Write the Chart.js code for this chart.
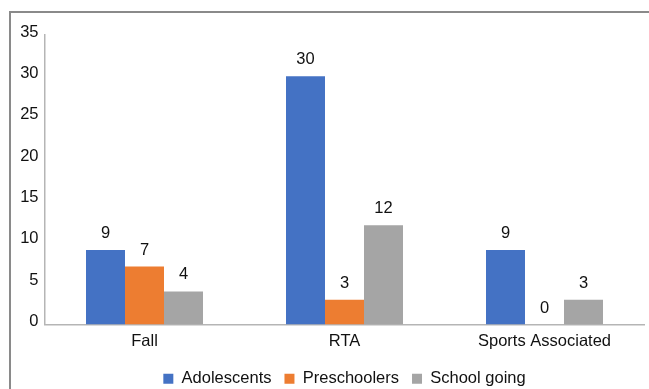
<!DOCTYPE html>
<html>
<head>
<meta charset="utf-8">
<script src="https://cdn.jsdelivr.net/npm/chart.js@4/dist/chart.umd.min.js"></script>
<style>
  html, body { margin: 0; padding: 0; background: #fff; overflow: hidden; }
  #wrap { width: 649px; height: 389px; position: relative; overflow: hidden; }
</style>
</head>
<body>
<div id="wrap"><canvas id="c" width="649" height="397"></canvas></div>
<script>
// Injury causes by age group
const categories = ['Fall', 'RTA', 'Sports Associated'];
const adolescents = [9, 30, 9];
const preschoolers = [7, 3, 0];
const schoolGoing = [4, 12, 3];
const yTicks = [0, 5, 10, 15, 20, 25, 30, 35];

const FONT = 'Liberation Sans, Arial, sans-serif';
const FONT_SIZE = 16.5;

// Frame around the chart, running off the right and bottom edges
const framePlugin = {
  id: 'frame',
  beforeDraw(chart) {
    const ctx = chart.ctx;
    ctx.save();
    ctx.strokeStyle = '#8a8a8a';
    ctx.lineWidth = 2;
    ctx.strokeRect(10, 12, 700, 420);
    ctx.restore();
  }
};

// Center the legend under the plot area rather than the whole canvas
const legendShift = {
  id: 'legendShift',
  afterLayout(chart) {
    const lg = chart.legend;
    const area = chart.chartArea;
    const d = (area.left + area.right) / 2 - (lg.left + lg.right) / 2;
    lg.left += d;
    lg.right += d;
  }
};

// Value labels above each bar
const valueLabels = {
  id: 'valueLabels',
  afterDatasetsDraw(chart) {
    const ctx = chart.ctx;
    ctx.save();
    ctx.font = FONT_SIZE + 'px ' + FONT;
    ctx.fillStyle = '#111';
    ctx.textAlign = 'center';
    ctx.textBaseline = 'middle';
    chart.data.datasets.forEach((ds, i) => {
      chart.getDatasetMeta(i).data.forEach((bar, j) => {
        ctx.fillText(String(ds.data[j]), bar.x, bar.y - 16.5);
      });
    });
    ctx.restore();
  }
};

new Chart(document.getElementById('c'), {
  type: 'bar',
  data: {
    labels: categories,
    datasets: [
      { label: 'Adolescents', data: adolescents, backgroundColor: '#4472C4' },
      { label: 'Preschoolers', data: preschoolers, backgroundColor: '#ED7D31' },
      { label: 'School going', data: schoolGoing, backgroundColor: '#A5A5A5' }
    ]
  },
  options: {
    responsive: false,
    animation: false,
    devicePixelRatio: 1,
    layout: { padding: { top: 35, right: 4.5, left: 0, bottom: 0 } },
    datasets: { bar: { barPercentage: 1, categoryPercentage: 0.585 } },
    plugins: {
      legend: {
        position: 'bottom',
        labels: {
          boxWidth: 10,
          boxHeight: 10,
          padding: 13,
          color: '#111',
          font: { family: FONT, size: FONT_SIZE }
        }
      },
      tooltip: { enabled: false }
    },
    scales: {
      x: {
        afterFit(scale) { scale.height = 33; },
        grid: { display: false, drawTicks: false },
        border: { color: '#b5b5b5', width: 1.5 },
        ticks: { color: '#111', font: { family: FONT, size: FONT_SIZE }, padding: 7 }
      },
      y: {
        min: 0,
        max: 35,
        afterBuildTicks(scale) { scale.ticks = yTicks.map(v => ({ value: v })); },
        afterFit(scale) { scale.width = 44.5; },
        grid: { display: false, drawTicks: false },
        border: { color: '#b5b5b5', width: 1.5 },
        ticks: { color: '#111', font: { family: FONT, size: FONT_SIZE }, padding: 6, labelOffset: -3 }
      }
    }
  },
  plugins: [framePlugin, legendShift, valueLabels]
});
</script>
</body>
</html>
